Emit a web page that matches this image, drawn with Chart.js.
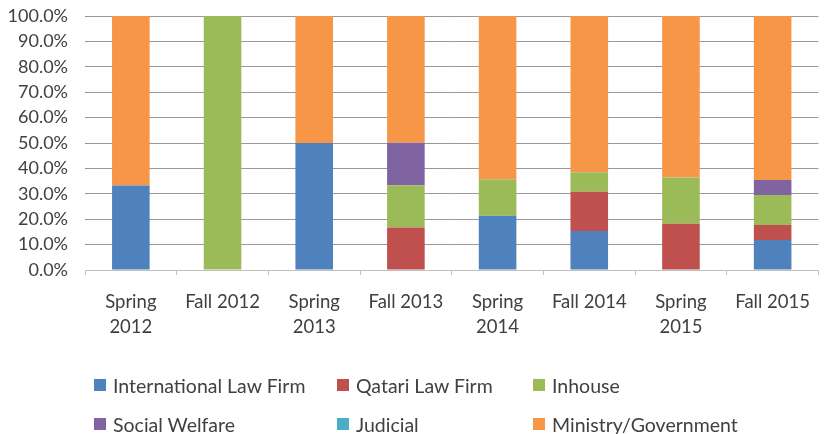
<!DOCTYPE html>
<html>
<head>
<meta charset="utf-8">
<script src="https://cdn.jsdelivr.net/npm/chart.js@4.4.1/dist/chart.umd.min.js"></script>
<style>
  html, body { margin: 0; padding: 0; background: #fff; }
  #wrap { position: relative; width: 825px; height: 434px; }
  #legend { position: absolute; left: 0; top: 0; width: 825px; height: 434px; pointer-events: none;
            font-family: Lato, sans-serif; font-size: 19.5px; color: #404040; }
  .item { position: absolute; display: flex; align-items: center; height: 24px; white-space: nowrap; }
  .box { width: 12px; height: 12px; margin-right: 7px; }
</style>
</head>
<body>
<div id="wrap">
  <canvas id="chart" width="825" height="434"></canvas>
  <div id="legend"></div>
</div>
<script>
const categories = [['Spring', '2012'], 'Fall 2012', ['Spring', '2013'], 'Fall 2013',
                    ['Spring', '2014'], 'Fall 2014', ['Spring', '2015'], 'Fall 2015'];

const internationalLawFirm = [33.3, 0, 50.0, 0, 21.4, 15.4, 0, 11.8];
const qatariLawFirm        = [0, 0, 0, 16.7, 0, 15.4, 18.2, 5.9];
const inhouse              = [0, 100.0, 0, 16.7, 14.3, 7.7, 18.2, 11.8];
const socialWelfare        = [0, 0, 0, 16.7, 0, 0, 0, 5.9];
const judicial             = [0, 0, 0, 0, 0, 0, 0, 0];
const ministryGovernment   = [66.7, 0, 50.0, 50.0, 64.3, 61.5, 63.6, 64.7];

const textColor = '#404040';

const datasets = [
    { label: 'International Law Firm', data: internationalLawFirm, backgroundColor: '#4F81BD' },
    { label: 'Qatari Law Firm', data: qatariLawFirm, backgroundColor: '#C0504D' },
    { label: 'Inhouse', data: inhouse, backgroundColor: '#9BBB59' },
    { label: 'Social Welfare', data: socialWelfare, backgroundColor: '#8064A2' },
    { label: 'Judicial', data: judicial, backgroundColor: '#4BACC6' },
    { label: 'Ministry/Government', data: ministryGovernment, backgroundColor: '#F79646' }
];
datasets.forEach(d => {
    d.barPercentage = 0.41;
    d.categoryPercentage = 1.0;
    d.borderWidth = 0;
});

new Chart(document.getElementById('chart'), {
    type: 'bar',
    data: { labels: categories, datasets: datasets },
    options: {
        responsive: false,
        animation: false,
        layout: { padding: { top: 16, right: 0, bottom: 94, left: 0 } },
        plugins: { legend: { display: false }, tooltip: { enabled: false } },
        scales: {
            x: {
                stacked: true,
                grid: { offset: true, drawOnChartArea: false, tickLength: 5, color: '#BFBFBF' },
                border: { color: '#BFBFBF' },
                ticks: {
                    color: textColor, maxRotation: 0, autoSkip: false, padding: 15,
                    font: { family: 'Lato', size: 18.5, lineHeight: 1.35 }
                },
                afterFit: s => { s.height = 70; }
            },
            y: {
                stacked: true,
                min: 0, max: 100,
                grid: { color: '#989898', drawTicks: false },
                border: { display: false },
                ticks: {
                    stepSize: 10, padding: 17, color: textColor, autoSkip: false,
                    font: { family: 'Lato', size: 18 },
                    callback: v => v.toFixed(1) + '%'
                },
                afterFit: s => {
                    s.width = 85;
                    s.paddingTop = 0;
                    s.paddingBottom = 0;
                }
            }
        }
    }
});

// legend laid out in three aligned columns, like the original
const legendCols = [94, 337, 533];
const legendRows = [385, 424];
const legend = document.getElementById('legend');
datasets.forEach((d, i) => {
    const item = document.createElement('div');
    item.className = 'item';
    item.style.left = legendCols[i % 3] + 'px';
    item.style.top = (legendRows[Math.floor(i / 3)] - 12) + 'px';
    item.innerHTML = '<span class="box" style="background:' + d.backgroundColor + '"></span>' + d.label;
    legend.appendChild(item);
});
</script>
</body>
</html>
